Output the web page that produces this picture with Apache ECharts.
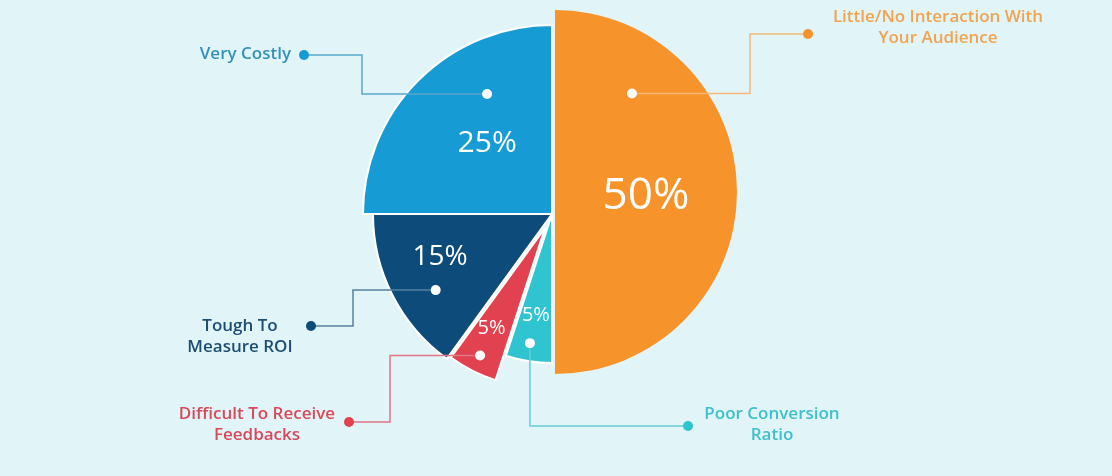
<!DOCTYPE html>
<html>
<head>
<meta charset="utf-8">
<script src="https://cdn.jsdelivr.net/npm/echarts@6/dist/echarts.min.js"></script>
<style>
  html, body { margin: 0; padding: 0; background: #e1f5f9; }
  #chart { width: 1112px; height: 476px; }
</style>
</head>
<body>
<div id="chart"></div>
<script>
// Reasons listed clockwise from 12 o'clock
const categories = [
  'Little/No Interaction With\nYour Audience',
  'Poor Conversion\nRatio',
  'Difficult To Receive\nFeedbacks',
  'Tough To\nMeasure ROI',
  'Very Costly'
];
const shares = [50, 5, 5, 15, 25];

// Palette
const sliceColors  = ['#f7932b', '#2fc4d0', '#e2424f', '#0d4b7b', '#169bd4'];
const textColors   = ['#f0a450', '#3fbfca', '#d8495a', '#1d4e72', '#3590b8'];
const leaderColors = ['#f4b877', '#63ccd5', '#e27582', '#56809e', '#5aa6c8'];

// Per-slice drawing layout: every slice is its own pie so it can have
// its own centre and radius. Angles are clockwise from 12 o'clock.
const sliceLayout = [
  { cx: 555, cy: 192, r: 182, border: 0, pctA: 92.5, pctD: 91,  pctSize: 44, dotA: 38,    dotD: 125,
    route: 'h', elbowX: 750, endX: 808, endY: 34,  textX: 938, textY: 28,  align: 'center' },
  { cx: 552, cy: 214, r: 149, border: 2, pctA: 189,  pctD: 103, pctSize: 20, dotA: 189.7, dotD: 131,
    route: 'v', endX: 688, endY: 426, textX: 772, textY: 425, align: 'center' },
  { cx: 545, cy: 228, r: 160, border: 2, pctA: 208,  pctD: 114, pctSize: 20, dotA: 207,   dotD: 143,
    route: 'h', elbowX: 390, endX: 349, endY: 422, textX: 257, textY: 425, align: 'center' },
  { cx: 552, cy: 214, r: 179, border: 2, pctA: 249,  pctD: 120, pctSize: 28, dotA: 236.8, dotD: 139,
    route: 'h', elbowX: 353, endX: 311, endY: 326, textX: 240, textY: 337, align: 'center' },
  { cx: 552, cy: 214, r: 189, border: 2, pctA: 317.5, pctD: 96, pctSize: 30, dotA: 331.6, dotD: 136.5,
    route: 'h', elbowX: 362, endX: 304, endY: 55,  textX: 291, textY: 54,  align: 'right' }
];

function polar(cx, cy, angleDeg, dist) {
  const a = angleDeg * Math.PI / 180;
  return [cx + dist * Math.sin(a), cy - dist * Math.cos(a)];
}

const series = sliceLayout.map((g, i) => {
  const pctPos = polar(g.cx, g.cy, g.pctA, g.pctD);
  return {
    type: 'pie',
    center: [g.cx, g.cy],
    radius: g.r,
    startAngle: 90,
    clockwise: true,
    avoidLabelOverlap: false,
    silent: true,
    animation: false,
    emphasis: { disabled: true },
    label: {
      position: 'inside',
      formatter: '{c}%',
      color: '#ffffff',
      fontFamily: 'Open Sans',
      fontWeight: 400,
      fontSize: g.pctSize
    },
    labelLine: { show: false },
    labelLayout: () => ({ x: pctPos[0], y: pctPos[1], align: 'center', verticalAlign: 'middle' }),
    data: shares.map((v, j) => ({
      name: categories[j],
      value: v,
      itemStyle: j === i
        ? { color: sliceColors[j], borderColor: '#ffffff', borderWidth: g.border }
        : { color: 'rgba(0,0,0,0)', borderWidth: 0 },
      label: { show: j === i }
    }))
  };
});

// Leader lines, end dots and category captions
const graphics = [];
sliceLayout.forEach((g, i) => {
  const dot = polar(g.cx, g.cy, g.dotA, g.dotD);
  const pts = g.route === 'h'
    ? [dot, [g.elbowX, dot[1]], [g.elbowX, g.endY], [g.endX, g.endY]]
    : [dot, [dot[0], g.endY], [g.endX, g.endY]];
  graphics.push({
    type: 'polyline', z: 10, silent: true,
    shape: { points: pts },
    style: { stroke: leaderColors[i], lineWidth: 1.5, fill: null }
  });
  graphics.push({
    type: 'circle', z: 11, silent: true,
    shape: { cx: dot[0], cy: dot[1], r: 5 },
    style: { fill: '#ffffff' }
  });
  graphics.push({
    type: 'circle', z: 11, silent: true,
    shape: { cx: g.endX, cy: g.endY, r: 5 },
    style: { fill: sliceColors[i] }
  });
  graphics.push({
    type: 'text', z: 11, silent: true,
    style: {
      text: categories[i],
      x: g.textX, y: g.textY,
      fill: textColors[i],
      fontFamily: 'Open Sans',
      fontWeight: 600,
      fontSize: 17,
      lineHeight: 21,
      align: g.align,
      verticalAlign: 'middle'
    }
  });
});

const chart = echarts.init(document.getElementById('chart'), null, { renderer: 'canvas' });
chart.setOption({
  backgroundColor: '#e1f5f9',
  animation: false,
  series: series,
  graphic: graphics
});
</script>
</body>
</html>
